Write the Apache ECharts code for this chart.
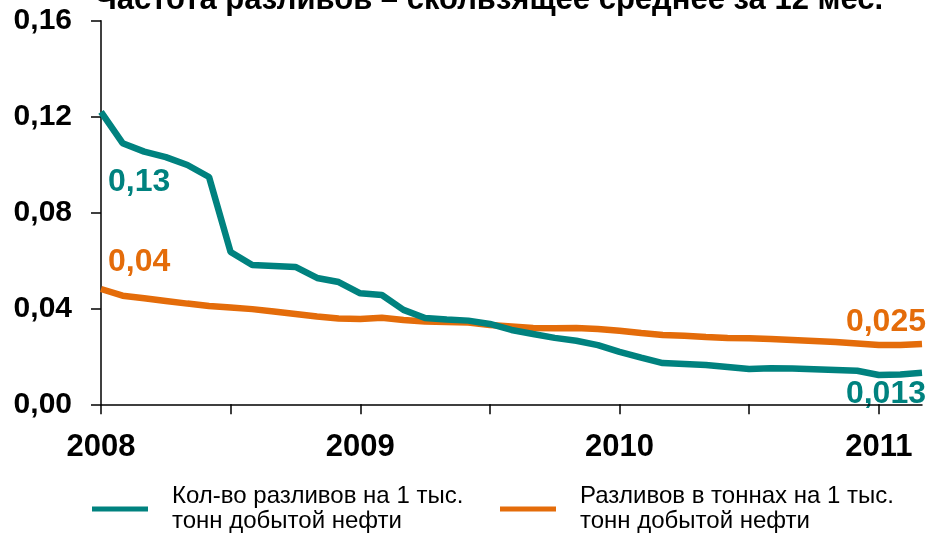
<!DOCTYPE html>
<html lang="ru">
<head>
    <meta charset="UTF-8">
    <title>Частота разливов</title>
    <script src="https://cdn.jsdelivr.net/npm/echarts@6/dist/echarts.min.js"></script>
    <style>
        html, body { margin: 0; padding: 0; background: #fff; }
        #chart { width: 926px; height: 535px; }
    </style>
</head>
<body>
<div id="chart"></div>
<script>
    // помесячно, янв 2008 - мар 2011
    var months = [];
    for (var y = 2008; y <= 2011; y++) {
        for (var m = 1; m <= 12; m++) {
            if (y === 2011 && m > 3) break;
            months.push(y + '-' + (m < 10 ? '0' + m : m));
        }
    }

    var spillCount = [
        0.1220, 0.1089, 0.1054, 0.1031, 0.0998, 0.0948, 0.0635, 0.0581, 0.0577, 0.0573, 0.0527, 0.0510,
        0.0463, 0.0456, 0.0394, 0.0360, 0.0354, 0.0349, 0.0335, 0.0310, 0.0293, 0.0277, 0.0265, 0.0247,
        0.0219, 0.0195, 0.0172, 0.0168, 0.0164, 0.0156, 0.0147, 0.0150, 0.0149, 0.0146, 0.0143, 0.0140,
        0.0122, 0.0124, 0.0132
    ];
    var spillTons = [
        0.0481, 0.0453, 0.0442, 0.0431, 0.0420, 0.0410, 0.0404, 0.0397, 0.0387, 0.0377, 0.0366, 0.0358,
        0.0356, 0.0361, 0.0352, 0.0345, 0.0343, 0.0341, 0.0331, 0.0325, 0.0318, 0.0317, 0.0318, 0.0314,
        0.0307, 0.0297, 0.0289, 0.0286, 0.0281, 0.0277, 0.0275, 0.0272, 0.0268, 0.0264, 0.0260, 0.0254,
        0.0247, 0.0247, 0.0252
    ];
    var seriesNames = [
        'Кол-во разливов на 1 тыс.\nтонн добытой нефти',
        'Разливов в тоннах на 1 тыс.\nтонн добытой нефти'
    ];
    var colors = ['#00827f', '#e46c0a'];

    var font = "'Liberation Sans', Arial, sans-serif";

    var option = {
        animation: false,
        title: {
            text: 'Частота разливов – скользящее среднее за 12 мес.',
            left: 95,
            top: -15,
            padding: 0,
            textStyle: { fontFamily: font, fontSize: 31, fontWeight: 'bold', color: '#000' }
        },
        grid: { left: 101, right: 4, top: 20.7, bottom: 130.7 },
        legend: [
            {
                data: [seriesNames[0]], left: 92, top: 484, padding: 0,
                icon: 'rect', itemWidth: 56, itemHeight: 5,
                textStyle: { fontFamily: font, fontSize: 24, lineHeight: 25, color: '#000', padding: [0, 0, 0, 19] }
            },
            {
                data: [seriesNames[1]], left: 500, top: 484, padding: 0,
                icon: 'rect', itemWidth: 56, itemHeight: 5,
                textStyle: { fontFamily: font, fontSize: 24, lineHeight: 25, color: '#000', padding: [0, 0, 0, 19] }
            }
        ],
        xAxis: {
            type: 'category',
            data: months,
            boundaryGap: false,
            axisLine: { lineStyle: { color: '#000', width: 1.5 } },
            axisTick: {
                length: 10,
                lineStyle: { color: '#000', width: 1.5 },
                interval: function (i) { return i % 6 === 0; }
            },
            axisLabel: {
                interval: function (i) { return i % 12 === 0; },
                formatter: function (v) { return v.slice(0, 4); },
                margin: 28,
                fontFamily: font, fontSize: 31, fontWeight: 'bold', color: '#000'
            },
            splitLine: { show: false }
        },
        yAxis: {
            type: 'value',
            min: 0, max: 0.16, interval: 0.04,
            axisLine: { show: true, lineStyle: { color: '#000', width: 1.5 } },
            axisTick: { show: true, length: 10, lineStyle: { color: '#000', width: 1.5 } },
            axisLabel: {
                formatter: function (v) { return v.toFixed(2).replace('.', ','); },
                margin: 29,
                fontFamily: font, fontSize: 30, fontWeight: 'bold', color: '#000'
            },
            splitLine: { show: false }
        },
        series: [
            {
                name: seriesNames[0], type: 'line', data: spillCount,
                symbol: 'none', color: colors[0],
                lineStyle: { width: 6.5, color: colors[0] }
            },
            {
                name: seriesNames[1], type: 'line', data: spillTons,
                symbol: 'none', color: colors[1], z: 1,
                lineStyle: { width: 6.5, color: colors[1] }
            }
        ],
        graphic: [
            { type: 'text', x: 108, y: 182.5, style: { text: '0,13', fill: colors[0], font: 'bold 32px ' + font, verticalAlign: 'middle' } },
            { type: 'text', x: 108, y: 262.5, style: { text: '0,04', fill: colors[1], font: 'bold 32px ' + font, verticalAlign: 'middle' } },
            { type: 'text', x: 926, y: 322.5, style: { text: '0,025', fill: colors[1], font: 'bold 32px ' + font, verticalAlign: 'middle', align: 'right' } },
            { type: 'text', x: 926, y: 394, style: { text: '0,013', fill: colors[0], font: 'bold 32px ' + font, verticalAlign: 'middle', align: 'right' } }
        ]
    };

    echarts.init(document.getElementById('chart')).setOption(option);
</script>
</body>
</html>
